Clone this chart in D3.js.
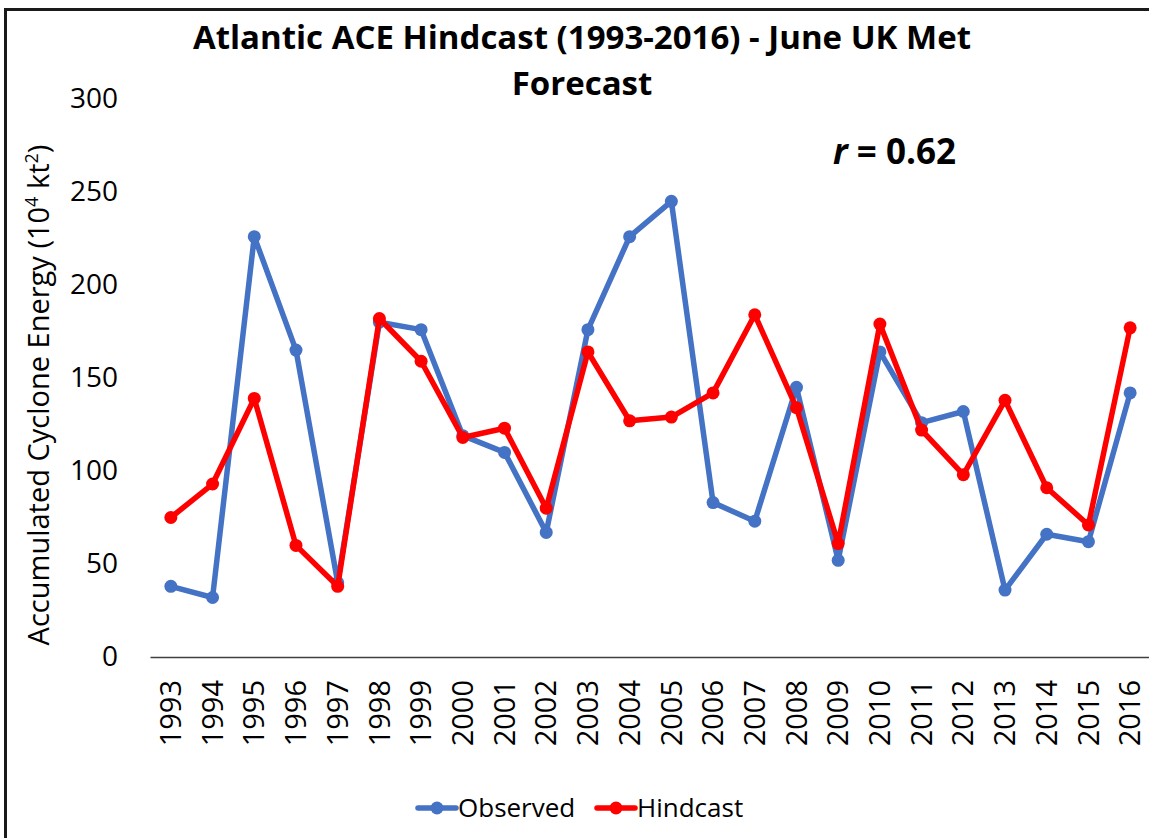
<!DOCTYPE html>
<html>
<head>
<meta charset="utf-8">
<script src="https://cdn.jsdelivr.net/npm/d3@7"></script>
<style>
  body { margin: 0; background: #fff; }
  svg { display: block; font-family: "Open Sans", "Noto Sans", sans-serif; }
</style>
</head>
<body>
<div id="chart"></div>
<script>
// ------ DATA ------

const years = [1993, 1994, 1995, 1996, 1997, 1998, 1999, 2000, 2001, 2002, 2003, 2004,
               2005, 2006, 2007, 2008, 2009, 2010, 2011, 2012, 2013, 2014, 2015, 2016];

const observed = [38, 32, 226, 165, 40, 180, 176, 119, 110, 67, 176, 226,
                  245, 83, 73, 145, 52, 164, 126, 132, 36, 66, 62, 142];

const hindcast = [75, 93, 139, 60, 38, 182, 159, 118, 123, 80, 164, 127,
                  129, 142, 184, 134, 61, 179, 122, 98, 138, 91, 71, 177];

const yTicks = [0, 50, 100, 150, 200, 250, 300];

const seriesNames = ['Observed', 'Hindcast'];
const seriesColors = ['#4472C4', '#FF0000'];

// ----- GLOBAL VARIABLES ----

const WIDTH = 1149;
const HEIGHT = 838;

// ****************************************
// ------ DRAW ------

function drawChart(){
  const svg = d3.select('#chart')
    .append('svg')
      .attr('width', WIDTH)
      .attr('height', HEIGHT);

  // outer frame (cropped at right and bottom)
  svg.append('rect')
    .attr('x', 5.5).attr('y', 9.5)
    .attr('width', WIDTH + 20).attr('height', HEIGHT + 20)
    .attr('fill', 'none')
    .attr('stroke', '#1a1a1a')
    .attr('stroke-width', 3);

  // scales
  const x = d3.scaleBand()
    .domain(years)
    .range([150, 1151]);

  const y = d3.scaleLinear()
    .domain([0, 300])
    .range([657, 99]);

  // title
  const title = svg.append('text')
    .attr('text-anchor', 'middle')
    .attr('font-weight', 'bold')
    .attr('font-size', 33)
    .attr('fill', '#000');
  title.append('tspan').attr('x', 582).attr('y', 49)
    .text('Atlantic ACE Hindcast (1993-2016) - June UK Met');
  title.append('tspan').attr('x', 582).attr('y', 95)
    .text('Forecast');

  // y axis (labels only)
  const yAxis = svg.append('g')
    .attr('transform', 'translate(118,0)')
    .call(d3.axisLeft(y).tickValues(yTicks).tickSize(0).tickPadding(0));
  yAxis.attr('font-family', null).attr('font-size', 28);
  yAxis.select('.domain').remove();
  yAxis.selectAll('text')
    .attr('fill', '#000');

  // y axis title
  const yTitle = svg.append('text')
    .attr('transform', 'translate(49,395) rotate(-90)')
    .attr('text-anchor', 'middle')
    .attr('font-size', 29)
    .attr('fill', '#000');
  yTitle.append('tspan').text('Accumulated Cyclone Energy (10');
  yTitle.append('tspan').attr('font-size', 18).attr('dy', -11).text('4');
  yTitle.append('tspan').attr('dy', 11).text(' kt');
  yTitle.append('tspan').attr('font-size', 18).attr('dy', -11).text('2');
  yTitle.append('tspan').attr('dy', 11).text(')');

  // x axis
  const xAxis = svg.append('g')
    .attr('transform', `translate(0,${y(0)})`)
    .call(d3.axisBottom(x).tickSize(0).tickPadding(0));
  xAxis.attr('font-family', null).attr('font-size', 29);
  xAxis.select('.domain')
    .attr('stroke', '#404040')
    .attr('stroke-width', 1.5);
  xAxis.selectAll('text')
    .attr('fill', '#000')
    .attr('text-anchor', 'end')
    .attr('transform', 'translate(0,23) rotate(-90)')
    .attr('dy', '0.35em')
    .attr('dx', 0)
    .attr('y', 0)
    .attr('x', 0);

  // lines + markers
  const line = d3.line()
    .x(function(d, i){ return x(years[i]) + x.bandwidth() / 2; })
    .y(function(d){ return y(d); });

  [observed, hindcast].forEach(function(series, k){
    const g = svg.append('g');
    g.append('path')
      .datum(series)
      .attr('fill', 'none')
      .attr('stroke', seriesColors[k])
      .attr('stroke-width', 5.5)
      .attr('stroke-linejoin', 'round')
      .attr('d', line);
    g.selectAll('circle')
      .data(series)
      .join('circle')
        .attr('cx', function(d, i){ return x(years[i]) + x.bandwidth() / 2; })
        .attr('cy', function(d){ return y(d); })
        .attr('r', 6.5)
        .attr('fill', seriesColors[k]);
  });

  // correlation annotation
  const rText = svg.append('text')
    .attr('x', 833).attr('y', 164)
    .attr('font-size', 35)
    .attr('font-weight', 'bold')
    .attr('fill', '#000');
  rText.append('tspan').attr('font-style', 'italic').text('r');
  rText.append('tspan').text(' = 0.62');

  // legend
  const legendX = [418, 597];
  seriesNames.forEach(function(name, k){
    const lg = svg.append('g').attr('transform', `translate(${legendX[k]},808)`);
    lg.append('line')
      .attr('x1', 0).attr('x2', 38)
      .attr('stroke', seriesColors[k])
      .attr('stroke-width', 5.5)
      .attr('stroke-linecap', 'round');
    lg.append('circle')
      .attr('cx', 19).attr('r', 6.5)
      .attr('fill', seriesColors[k]);
    lg.append('text')
      .attr('x', 40).attr('y', 9)
      .attr('font-size', 26)
      .attr('fill', '#000')
      .text(name);
  });
}

drawChart();
</script>
</body>
</html>
